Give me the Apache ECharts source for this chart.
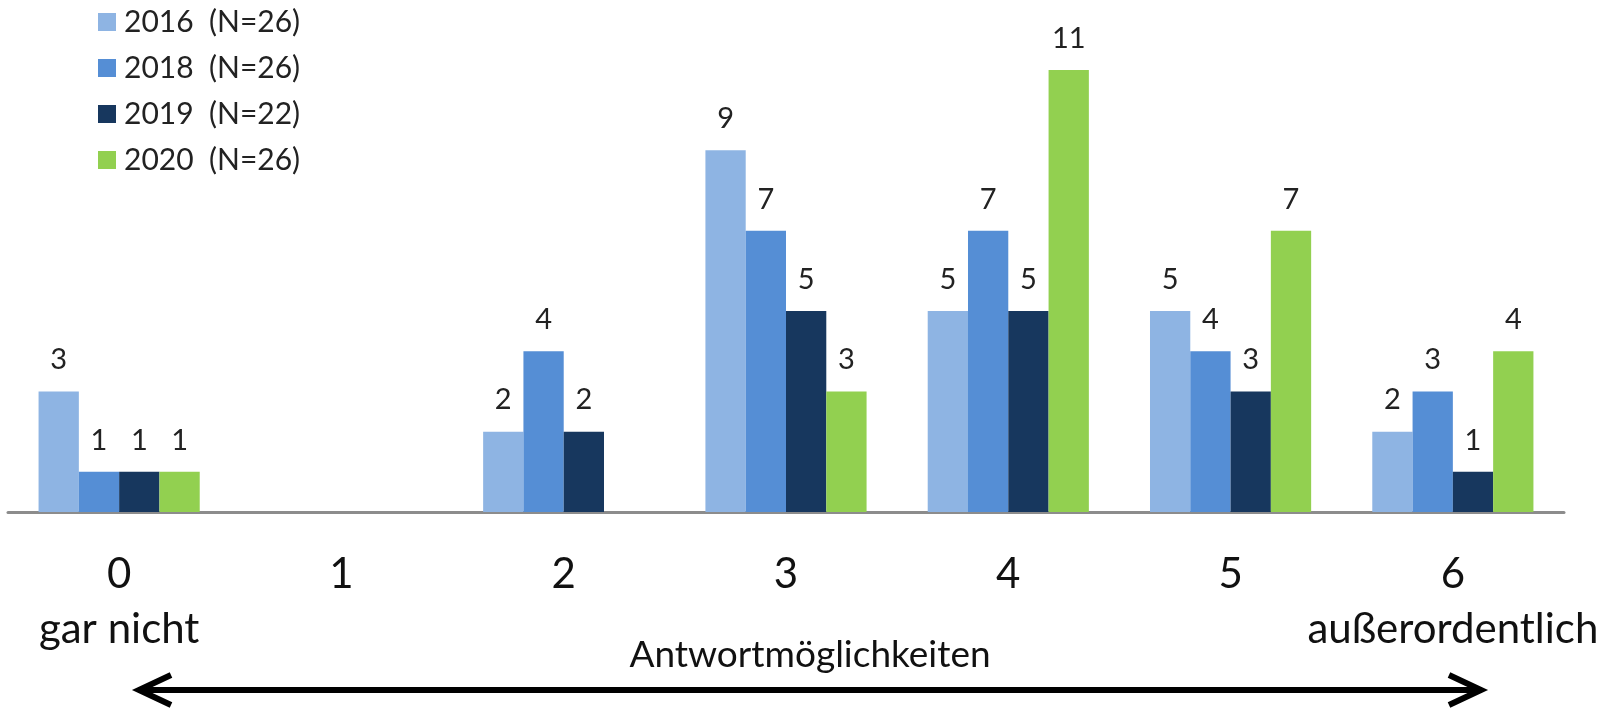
<!DOCTYPE html>
<html><head><meta charset="utf-8">
<script src="https://cdn.jsdelivr.net/npm/echarts@6/dist/echarts.min.js"></script>
<style>html,body{margin:0;padding:0;background:#fff}#c{width:1612px;height:708px}</style>
</head><body><div id="c"></div>
<script>
const categories = ['0\ngar nicht', '1', '2', '3', '4', '5', '6\naußerordentlich'];
const seriesNames = ['2016  (N=26)', '2018  (N=26)', '2019  (N=22)', '2020  (N=26)'];
const v2016 = [3, 0, 2, 9, 5, 5, 2];
const v2018 = [1, 0, 4, 7, 7, 4, 3];
const v2019 = [1, 0, 2, 5, 5, 3, 1];
const v2020 = [1, 0, 0, 3, 11, 7, 4];
const colors = ['#8EB4E3', '#558ED5', '#17375E', '#92D050'];
const FONT = 'Lato';

const chart = echarts.init(document.getElementById('c'));
const allVals = [v2016, v2018, v2019, v2020];
chart.setOption({
  animation: false,
  textStyle: { fontFamily: FONT },
  legend: {
    orient: 'vertical', left: 98, top: 7, padding: 0,
    itemWidth: 18, itemHeight: 18, itemGap: 16,
    icon: 'rect',
    textStyle: { fontSize: 30, lineHeight: 30, color: '#222', fontFamily: FONT, padding: [0, 0, 0, 3] },
    data: seriesNames
  },
  grid: { left: 8, right: 48, top: 70, bottom: 196, containLabel: false },
  xAxis: {
    type: 'category', data: categories,
    axisLine: { lineStyle: { color: '#8c8c8c', width: 3 } },
    axisTick: { show: false },
    axisLabel: { fontSize: 42, lineHeight: 55, color: '#111', margin: 35, interval: 0 }
  },
  yAxis: { type: 'value', min: 0, max: 11, show: false, splitLine: { show: false } },
  series: allVals.map((vals, i) => ({
    name: seriesNames[i], type: 'bar', data: vals,
    barGap: '0%', barCategoryGap: '27.5%',
    itemStyle: { color: colors[i] },
    label: {
      show: true, position: 'top', distance: 17,
      fontSize: 29, color: '#222', fontFamily: FONT,
      formatter: p => p.value === 0 ? '' : String(p.value)
    }
  })),
  graphic: [
    { type: 'text', x: 810, y: 655, style: { text: 'Antwortmöglichkeiten', fontSize: 37, fontFamily: FONT, fill: '#111', textAlign: 'center', textVerticalAlign: 'middle' } },
    { type: 'line', shape: { x1: 142, y1: 690, x2: 1477, y2: 690 }, style: { stroke: '#000', lineWidth: 6 } },
    { type: 'polyline', shape: { points: [[171, 675], [139, 690], [171, 705]] }, style: { stroke: '#000', lineWidth: 6, fill: null, lineJoin: 'miter' } },
    { type: 'polyline', shape: { points: [[1449, 675], [1481, 690], [1449, 705]] }, style: { stroke: '#000', lineWidth: 6, fill: null, lineJoin: 'miter' } }
  ]
});
</script></body></html>
